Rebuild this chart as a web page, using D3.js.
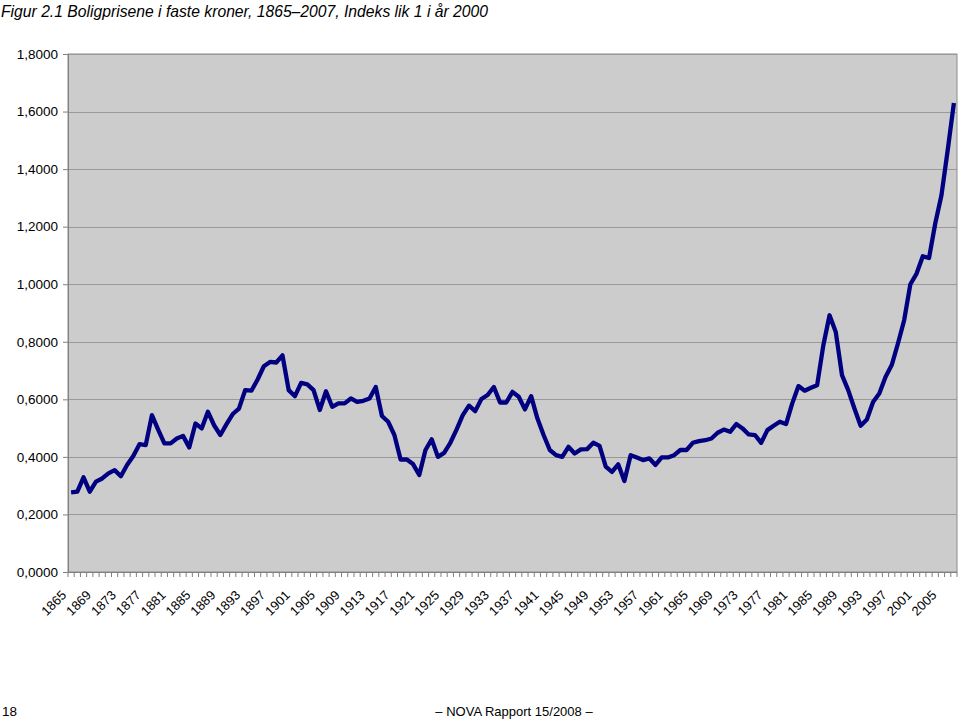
<!DOCTYPE html>
<html><head><meta charset="utf-8">
<script src="https://cdn.jsdelivr.net/npm/d3@7"></script>
<style>body{margin:0;background:#fff;} text{font-family:"Liberation Sans",Arial,sans-serif;}</style>
</head><body>
<svg id="c" width="960" height="720"></svg>
<script>
const startYear = 1865;
const endYear = 2007;
const years = d3.range(startYear, endYear + 1);
const values = [
0.277,0.279,0.329,0.279,0.314,0.325,0.343,0.354,0.333,0.372,
0.403,0.444,0.441,0.545,0.495,0.447,0.447,0.464,0.473,0.433,
0.516,0.499,0.557,0.510,0.476,0.514,0.549,0.568,0.632,0.630,
0.669,0.715,0.730,0.728,0.753,0.632,0.611,0.657,0.652,0.632,
0.563,0.628,0.574,0.586,0.586,0.603,0.591,0.595,0.603,0.643,
0.542,0.522,0.476,0.391,0.391,0.375,0.337,0.424,0.461,0.400,
0.414,0.449,0.495,0.545,0.578,0.559,0.601,0.615,0.643,0.589,
0.589,0.626,0.609,0.565,0.611,0.534,0.476,0.424,0.406,0.400,
0.435,0.412,0.426,0.427,0.449,0.438,0.366,0.348,0.374,0.316,
0.406,0.398,0.389,0.395,0.372,0.398,0.398,0.406,0.424,0.424,
0.449,0.455,0.458,0.464,0.484,0.495,0.487,0.514,0.499,0.478,
0.476,0.449,0.493,0.508,0.522,0.514,0.586,0.646,0.630,0.640,
0.649,0.788,0.892,0.834,0.684,0.632,0.568,0.508,0.530,0.591,
0.620,0.678,0.719,0.794,0.875,1.000,1.037,1.097,1.091,1.211,
1.309,1.465,1.630];
const yTicks = [0,0.2,0.4,0.6,0.8,1.0,1.2,1.4,1.6,1.8];
const xLabelYears = d3.range(1865, 2006, 4);
const titleText = "Figur 2.1 Boligprisene i faste kroner, 1865–2007, Indeks lik 1 i år 2000";
const pageNumber = "18";
const footerText = "– NOVA Rapport 15/2008 –";

const svg = d3.select("#c");
const L = 68, R = 957, T = 54, B = 572;

const x = d3.scaleBand().domain(years).range([L, R]).padding(0);
const y = d3.scaleLinear().domain([0, 1.8]).range([B, T]);

// plot background
svg.append("rect").attr("x", L).attr("y", T).attr("width", R - L).attr("height", B - T)
  .attr("fill", "#cccccc").attr("stroke", "#8c8c8c").attr("stroke-width", 1);

// gridlines
svg.append("g").selectAll("line").data(yTicks.filter(d => d > 0)).join("line")
  .attr("x1", L).attr("x2", R)
  .attr("y1", d => Math.round(y(d)) + 0.5).attr("y2", d => Math.round(y(d)) + 0.5)
  .attr("stroke", "#999999").attr("stroke-width", 1);

// y axis
const fmt = d => d.toFixed(4).replace(".", ",");
const yAxis = svg.append("g").attr("transform", `translate(${L},0)`)
  .call(d3.axisLeft(y).tickValues(yTicks).tickFormat(fmt).tickSize(5).tickPadding(5));
yAxis.select(".domain").attr("stroke", "#808080");
yAxis.selectAll(".tick line").attr("stroke", "#808080");
yAxis.selectAll("text").attr("font-size", 13.5).attr("fill", "#000")
  .attr("font-family", "Liberation Sans, Arial, sans-serif");

// x axis line and ticks between categories
const xg = svg.append("g");
xg.append("line").attr("x1", L).attr("x2", R).attr("y1", B + 0.5).attr("y2", B + 0.5)
  .attr("stroke", "#808080");
xg.selectAll("line.tk").data(years.concat([endYear + 1])).join("line").attr("class", "tk")
  .attr("x1", (d, i) => L + i * x.bandwidth()).attr("x2", (d, i) => L + i * x.bandwidth())
  .attr("y1", B).attr("y2", B + 5).attr("stroke", "#808080");

// x labels
xg.selectAll("text").data(xLabelYears).join("text")
  .attr("transform", d => `translate(${x(d) + x.bandwidth() / 2 - 4},${B + 24}) rotate(-45)`)
  .attr("text-anchor", "end")
  .attr("font-size", 13).attr("fill", "#000").text(d => d);

// line
const line = d3.line().x((d, i) => x(years[i]) + x.bandwidth() / 2).y(d => y(d));
svg.append("path").datum(values).attr("d", line).attr("fill", "none")
  .attr("stroke", "#000080").attr("stroke-width", 4.3).attr("stroke-linejoin", "round");

// title
svg.append("text").attr("x", 1).attr("y", 16.5).attr("font-size", 16.5)
  .attr("font-style", "italic").attr("fill", "#000")
  .attr("textLength", 487).attr("lengthAdjust", "spacingAndGlyphs").text(titleText);

// footer
svg.append("text").attr("x", 2).attr("y", 716).attr("font-size", 13.5).attr("fill", "#000").text(pageNumber);
svg.append("text").attr("x", 514).attr("y", 716).attr("font-size", 13).attr("text-anchor", "middle")
  .attr("fill", "#000").text(footerText);
</script>
</body></html>
